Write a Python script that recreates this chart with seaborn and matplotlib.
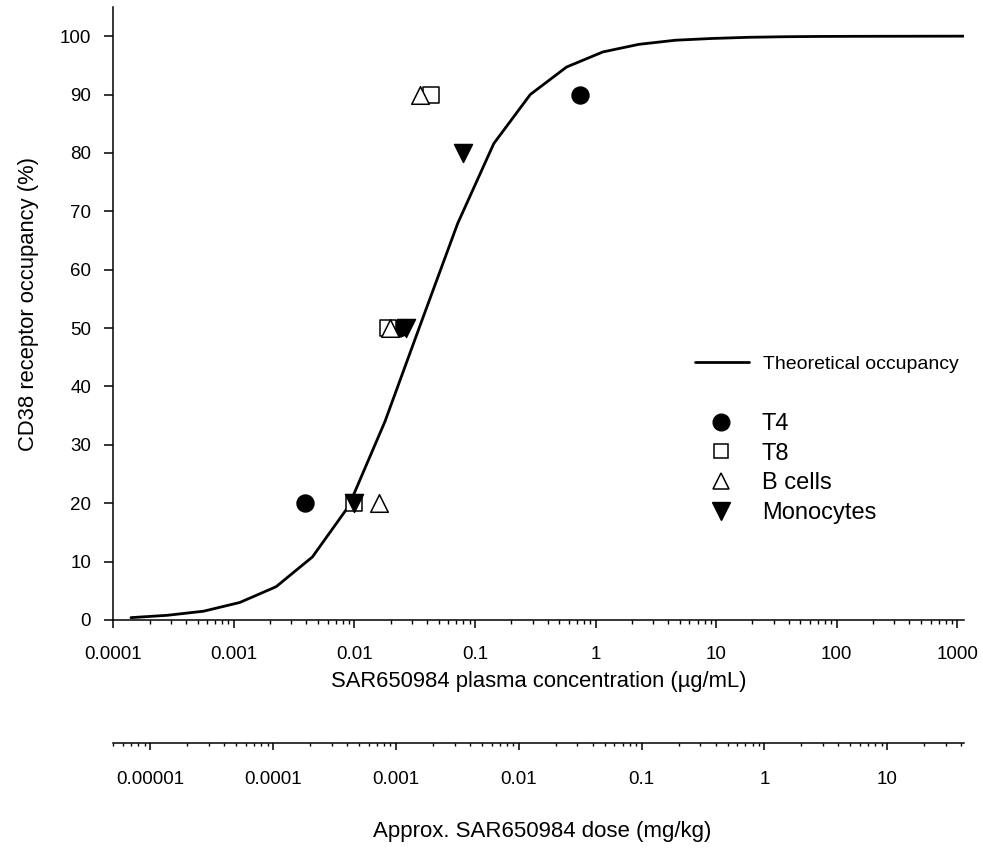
import matplotlib
matplotlib.use("Agg")
import matplotlib.pyplot as plt
import matplotlib.ticker as mticker
from matplotlib.lines import Line2D
import seaborn as sns

# theoretical occupancy curve
conc_curve = [1.4e-4, 2.8e-4, 5.6e-4, 1.12e-3, 2.24e-3, 4.48e-3, 8.96e-3, 0.0179,
              0.0358, 0.0717, 0.143, 0.287, 0.573, 1.15, 2.29, 4.59, 9.18, 18.4,
              36.7, 73.4, 147, 294, 587, 1175]
occ_curve = [0.4, 0.8, 1.5, 3.0, 5.7, 10.8, 19.5, 34.0, 51.0, 67.9, 81.6, 90.0,
             94.7, 97.3, 98.6, 99.3, 99.6, 99.8, 99.9, 99.95, 99.97, 99.98, 99.99, 100.0]

# observed occupancy per cell type
t4_conc = [0.0039, 0.0236, 0.736]
t4_occ = [20, 50, 90]
t8_conc = [0.0099, 0.0188, 0.043]
t8_occ = [20, 50, 90]
bcell_conc = [0.016, 0.0198, 0.0347]
bcell_occ = [20, 50, 90]
mono_conc = [0.0099, 0.0269, 0.0794]
mono_occ = [20, 50, 80]

conc_ticks = [1e-4, 1e-3, 1e-2, 1e-1, 1, 10, 100, 1000]
conc_labels = ["0.0001", "0.001", "0.01", "0.1", "1", "10", "100", "1000"]
dose_ticks = [1e-5, 1e-4, 1e-3, 1e-2, 1e-1, 1, 10]
dose_labels = ["0.00001", "0.0001", "0.001", "0.01", "0.1", "1", "10"]
y_ticks = list(range(0, 101, 10))

FONT = ["Liberation Sans", "DejaVu Sans"]

sns.set_theme(style="ticks")
plt.rcParams["font.family"] = FONT
plt.rcParams["text.color"] = "black"
plt.rcParams["axes.labelcolor"] = "black"
plt.rcParams["axes.edgecolor"] = "black"
plt.rcParams["xtick.color"] = "black"
plt.rcParams["ytick.color"] = "black"
plt.rcParams["axes.linewidth"] = 1.1

fig = plt.figure(figsize=(9.83, 8.48), dpi=100)
ax = fig.add_axes([0.1153, 0.2689, 0.865, 0.7229])

sns.lineplot(x=conc_curve, y=occ_curve, color="black", linewidth=2.0, ax=ax,
             sort=True, legend=False, zorder=2)

sns.scatterplot(x=t4_conc, y=t4_occ, marker="o", s=150, color="black",
                edgecolor="black", linewidth=1, ax=ax, zorder=3)
sns.scatterplot(x=t8_conc, y=t8_occ, marker="s", s=120, color="white",
                edgecolor="black", linewidth=1.1, ax=ax, zorder=3)
sns.scatterplot(x=bcell_conc, y=bcell_occ, marker="^", s=160, color="white",
                edgecolor="black", linewidth=1.1, ax=ax, zorder=3)
sns.scatterplot(x=mono_conc, y=mono_occ, marker="v", s=170, color="black",
                edgecolor="black", linewidth=1, ax=ax, zorder=3)

ax.set_xscale("log")
ax.set_xlim(1e-4, 1128)
ax.set_ylim(0, 105)
ax.xaxis.set_major_locator(mticker.FixedLocator(conc_ticks))
ax.xaxis.set_major_formatter(mticker.FixedFormatter(conc_labels))
ax.xaxis.set_minor_locator(mticker.LogLocator(base=10, subs=range(2, 10), numticks=30))
ax.xaxis.set_minor_formatter(mticker.NullFormatter())
ax.set_yticks(y_ticks)
ax.tick_params(axis="x", which="major", length=5.5, width=1.1, labelsize=13.5, pad=13)
ax.tick_params(axis="x", which="minor", length=3, width=1.0)
ax.tick_params(axis="y", which="major", length=6.5, width=1.1, labelsize=13.5, pad=9.5)
sns.despine(ax=ax)

ax.set_xlabel("SAR650984 plasma concentration (µg/mL)", fontsize=15.8)
ax.xaxis.set_label_coords(0.5, -0.083)
ax.set_ylabel("CD38 receptor occupancy (%)", fontsize=15.8)
ax.yaxis.set_label_coords(-0.087, 0.515)

# legends
line_handle = [Line2D([], [], color="black", linewidth=2.0)]
leg1 = ax.legend(line_handle, ["Theoretical occupancy"], loc="center left",
                 bbox_to_anchor=(0.684, 0.418), frameon=False, borderpad=0,
                 borderaxespad=0, handlelength=2.78, handletextpad=0.7,
                 prop={"family": FONT, "size": 14})
ax.add_artist(leg1)

marker_handles = [
    Line2D([], [], linestyle="none", marker="o", markersize=12, color="black"),
    Line2D([], [], linestyle="none", marker="s", markersize=10.5,
           markerfacecolor="white", markeredgecolor="black", markeredgewidth=1.1),
    Line2D([], [], linestyle="none", marker="^", markersize=12,
           markerfacecolor="white", markeredgecolor="black", markeredgewidth=1.1),
    Line2D([], [], linestyle="none", marker="v", markersize=13, color="black"),
]
ax.legend(marker_handles, ["T4", "T8", "B cells", "Monocytes"], loc="center left",
          bbox_to_anchor=(0.6935, 0.247), frameon=False, borderpad=0,
          borderaxespad=0, handlelength=1.5, handletextpad=0.99, labelspacing=0.33,
          prop={"family": FONT, "size": 17})

# dose axis below
ax2 = fig.add_axes([0.1153, 1 - 743 / 848, 0.865, 0.0001])
ax2.set_facecolor("none")
ax2.set_xscale("log")
ax2.set_xlim(5e-6, 41.8)
ax2.set_yticks([])
for side in ["left", "right", "top"]:
    ax2.spines[side].set_visible(False)
ax2.xaxis.set_major_locator(mticker.FixedLocator(dose_ticks))
ax2.xaxis.set_major_formatter(mticker.FixedFormatter(dose_labels))
ax2.xaxis.set_minor_locator(mticker.LogLocator(base=10, subs=range(2, 10), numticks=30))
ax2.xaxis.set_minor_formatter(mticker.NullFormatter())
ax2.tick_params(axis="x", which="major", length=5, width=1.1, labelsize=13.5, pad=15)
ax2.tick_params(axis="x", which="minor", length=2.5, width=1.0)

fig.text(542 / 983, 1 - 832 / 848, "Approx. SAR650984 dose (mg/kg)", fontsize=16,
         ha="center", va="center")

fig.savefig("out.png", dpi=100, facecolor="white")
